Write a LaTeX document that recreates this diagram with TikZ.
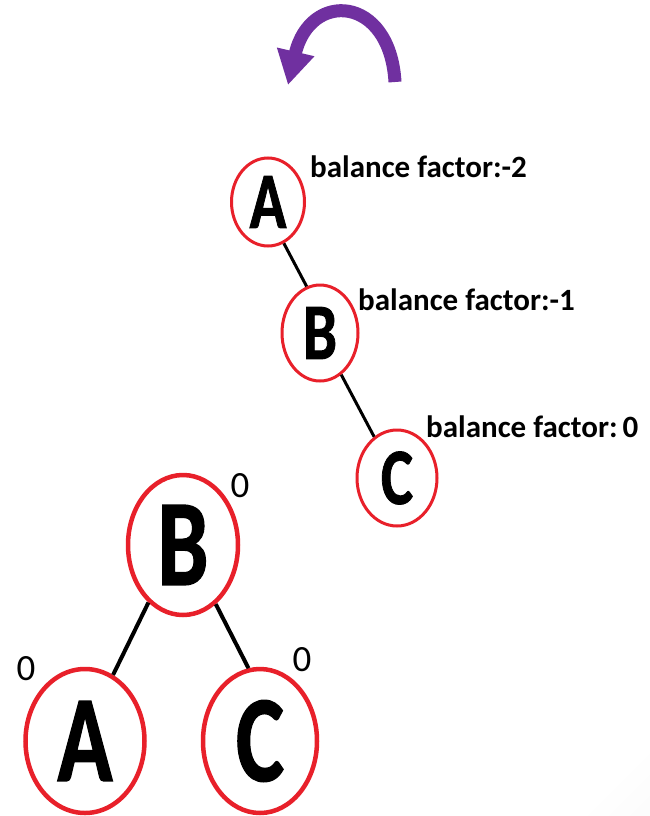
\documentclass[tikz,border=0pt]{standalone}
\usepackage{fontspec}
\setmainfont{Carlito}
\newfontfamily\letterfont[FakeBold=1.2]{Carlito}
\usetikzlibrary{shapes.geometric,arrows.meta}
\definecolor{nodered}{HTML}{E8202A}
\definecolor{arrowpurple}{HTML}{7030A0}
\pgfdeclarehorizontalshading{cornershade}{100bp}{color(0bp)=(white); color(82bp)=(white); color(100bp)=(black!7)}
\newcommand\tletter[1]{\scalebox{0.76}[1]{\fontsize{80}{80}\letterfont\bfseries #1}}
\newcommand\bletter[1]{\scalebox{0.74}[1]{\fontsize{123}{123}\letterfont\bfseries #1}}
\begin{document}
\begin{tikzpicture}[x=1pt,y=-1pt,
  tnode/.style={ellipse, draw=nodered, line width=3pt, inner sep=0pt, text=black},
  bnode/.style={ellipse, draw=nodered, line width=4.5pt, inner sep=0pt, text=black},
  linkline/.style={line width=3pt, black},
  blinkline/.style={line width=4pt, black},
  bflabel/.style={anchor=base west, inner sep=0pt, font=\fontsize{31}{31}\selectfont\bfseries},
  zerolabel/.style={inner sep=0pt, font=\fontsize{37}{37}\selectfont}
]
\useasboundingbox (0,0) rectangle (650,816);
\shade[shading=cornershade, shading angle=-45] (0,0) rectangle (650,816);

% rotation arrow
\coordinate (arrTail) at (395,82);
\coordinate (arrTip) at (288,85);
\draw[arrowpurple, line width=13pt, -{Triangle[width=36pt,length=34pt]}]
  (arrTail) .. controls (390,-5) and (310,-10) .. (arrTip);

% unbalanced tree
\node[tnode, minimum width=73pt, minimum height=88pt] (A1) at (268,202) {\tletter{A}};
\node[tnode, minimum width=76pt, minimum height=96pt] (B1) at (320,333) {\tletter{B}};
\node[tnode, minimum width=80pt, minimum height=96pt] (C1) at (397,478) {\tletter{C}};
\draw[linkline] (A1.-69) -- (B1.106);
\draw[linkline] (B1.-63) -- (C1.119);

\node[bflabel] (lA1) at (310,177) {balance factor:-2};
\node[bflabel] (lB1) at (358,310) {balance factor:-1};
\node[bflabel] (lC1) at (426,437) {balance factor:\,0};

% balanced tree
\node[bnode, minimum width=110pt, minimum height=140pt] (B2) at (183,545) {\bletter{B}};
\node[bnode, minimum width=119pt, minimum height=144pt] (A2) at (85,741) {\bletter{A}};
\node[bnode, minimum width=114pt, minimum height=144pt] (C2) at (260,741) {\bletter{C}};
\draw[blinkline] (B2.-121) -- (A2.67);
\draw[blinkline] (B2.-61) -- (C2.99);

\node[zerolabel] (zB2) at (240,486) {0};
\node[zerolabel] (zA2) at (26,669) {0};
\node[zerolabel] (zC2) at (302,660) {0};
\end{tikzpicture}
\end{document}
